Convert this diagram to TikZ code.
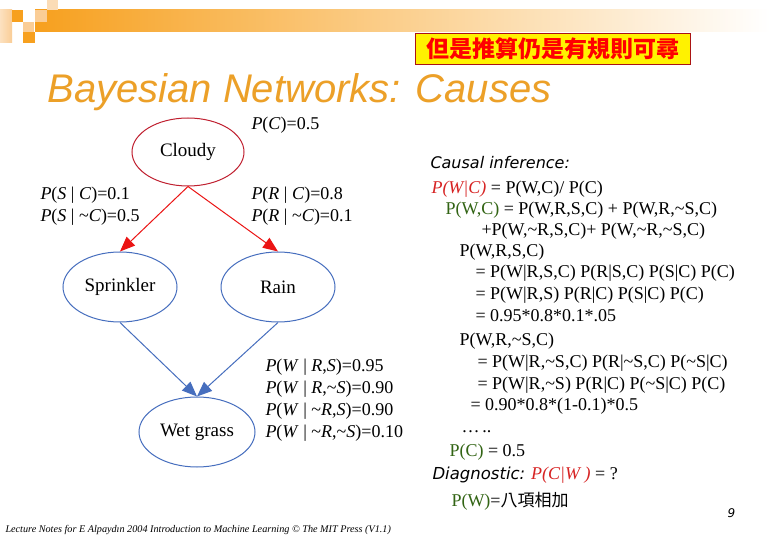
\documentclass[tikz,border=0pt]{standalone}
\usepackage{fontspec}
\setmainfont{Liberation Serif}
\newfontfamily\headfont{Liberation Sans}
\newfontfamily\notefont{DejaVu Sans}
\newfontfamily\cjk{Noto Sans CJK TC}
\usetikzlibrary{shapes.geometric, positioning, arrows.meta}

\definecolor{slidegold}{RGB}{236,160,40}
\definecolor{barorange}{RGB}{247,160,30}
\definecolor{barlight}{RGB}{250,205,150}
\definecolor{cloudred}{RGB}{192,32,48}
\definecolor{arrowred}{RGB}{235,20,20}
\definecolor{netblue}{RGB}{70,110,190}
\definecolor{termgreen}{RGB}{50,100,20}
\definecolor{termred}{RGB}{215,35,35}
\definecolor{boxred}{RGB}{170,20,20}

\newcommand{\ti}{\textasciitilde}
\newcommand{\vi}[1]{\textit{#1}}
\newcommand{\gr}[1]{\textcolor{termgreen}{#1}}
\newcommand{\rd}[1]{\textcolor{termred}{\itshape #1}}

\begin{document}
\begin{tikzpicture}[x=1pt,y=-1pt,node distance=1cm,on grid,line width=1pt,
  >={Triangle[length=15pt,width=12pt]}]
  \tikzstyle{var}=[ellipse, draw=netblue, inner sep=0pt, minimum width=114pt,
    minimum height=70pt, font=\fontsize{19}{22}\selectfont]
  \tikzstyle{cpt}=[anchor=west, inner sep=0pt, align=left,
    font=\fontsize{18}{22}\selectfont]
  \tikzstyle{calc}=[anchor=west, inner sep=0pt, font=\fontsize{18}{21}\selectfont]
  \tikzstyle{note}=[anchor=west, inner sep=0pt,
    font=\notefont\itshape\fontsize{16}{19}\selectfont]
  \useasboundingbox[fill=white] (0,0) rectangle (780,540);

  % slide header
  \shade[left color=barorange, right color=white] (35,10) rectangle (770,32);
  \fill[left color=barlight!60, right color=barlight] (0,10) rectangle (12,43);
  \fill[barorange] (12,10) rectangle (23,22);
  \fill[barlight] (23,22) rectangle (34,32);
  \fill[barorange] (23,32) rectangle (35,43);
  \fill[barlight] (35,10) rectangle (47,22);
  \fill[barlight!70] (47,0) rectangle (58,10);
  \node[draw=boxred, fill=yellow, line width=1.5pt, minimum width=275pt,
    minimum height=31pt, inner sep=0pt, text=red,
    font=\cjk\bfseries\fontsize{23}{26}\selectfont] (motto) at (553,49)
    {但是推算仍是有規則可尋};
  \node[anchor=west, inner sep=0pt, text=slidegold,
    font=\headfont\itshape\fontsize{40}{44}\selectfont] (title) at (47,92)
    {Bayesian Networks: Causes};

  % network
  \node[var, draw=cloudred, minimum width=112pt, minimum height=68pt] (cloudy) at (188,152) {Cloudy};
  \node[var, below left=135pt and 68pt of cloudy] (sprinkler) {Sprinkler};
  \node[var, right=158pt of sprinkler] (rain) {Rain};
  \node[var, below right=145pt and 77pt of sprinkler, minimum width=116pt] (wet) {Wet grass};
  \path[->, color=arrowred]
    (cloudy.south) edge (sprinkler.north)
    (cloudy.south) edge (rain.north);
  \path[->, color=netblue]
    (sprinkler.south) edge (wet.north)
    (rain.south) edge (wet.north);

  % conditional tables
  \node[cpt] (pc) at (251,125) {\vi{P}(\vi{C})=0.5};
  \node[cpt] (scpt) at (40,206)
    {\vi{P}(\vi{S} | \vi{C})=0.1\\ \vi{P}(\vi{S} | \ti\vi{C})=0.5};
  \node[cpt] (rcpt) at (251,206)
    {\vi{P}(\vi{R} | \vi{C})=0.8\\ \vi{P}(\vi{R} | \ti\vi{C})=0.1};
  \node[cpt] (wcpt) at (265,400)
    {\vi{P}(\vi{W} | \vi{R},\vi{S})=0.95\\
     \vi{P}(\vi{W} | \vi{R},\ti\vi{S})=0.90\\
     \vi{P}(\vi{W} | \ti\vi{R},\vi{S})=0.90\\
     \vi{P}(\vi{W} | \ti\vi{R},\ti\vi{S})=0.10};

  % inference
  \node[note] (causal) at (430,163) {Causal inference:};
  \node[calc] (c1) at (431,189) {\rd{P(W|C)} = P(W,C)/ P(C)};
  \node[calc] (c2) at (445,210) {\gr{P(W,C)} = P(W,R,S,C) + P(W,R,\ti S,C)};
  \node[calc] (c3) at (481,231) {+P(W,\ti R,S,C)+ P(W,\ti R,\ti S,C)};
  \node[calc] (c4) at (459,252) {P(W,R,S,C)};
  \node[calc] (c5) at (475,273) {= P(W|R,S,C) P(R|S,C) P(S|C) P(C)};
  \node[calc] (c6) at (475,295) {= P(W|R,S) P(R|C) P(S|C) P(C)};
  \node[calc] (c7) at (475,316) {= 0.95*0.8*0.1*.05};
  \node[calc] (c8) at (459,341) {P(W,R,\ti S,C)};
  \node[calc] (c9) at (477,363) {= P(W|R,\ti S,C) P(R|\ti S,C) P(\ti S|C)};
  \node[calc] (c10) at (477,385) {= P(W|R,\ti S) P(R|C) P(\ti S|C) P(C)};
  \node[calc] (c11) at (470,406) {= 0.90*0.8*(1-0.1)*0.5};
  \node[calc] (dots) at (461,432) {…\,..};
  \node[calc] (c12) at (449,452) {\gr{P(C)} = 0.5};
  \node[calc] (diag) at (432,475)
    {{\notefont\itshape\fontsize{16.5}{19}\selectfont Diagnostic:} \rd{P(C|W )} = ?};
  \node[calc] (c13) at (451,501) {\gr{P(W)}={\cjk\fontsize{17}{20}\selectfont 八項相加}};

  % footer
  \node[anchor=west, inner sep=0pt, font=\notefont\itshape\fontsize{12}{14}\selectfont]
    (page) at (727,513) {9};
  \node[anchor=west, inner sep=0pt, font=\itshape\fontsize{10.2}{12}\selectfont]
    (credit) at (5,530)
    {Lecture Notes for E Alpaydın 2004 Introduction to Machine Learning © The MIT Press (V1.1)};
\end{tikzpicture}
\end{document}
